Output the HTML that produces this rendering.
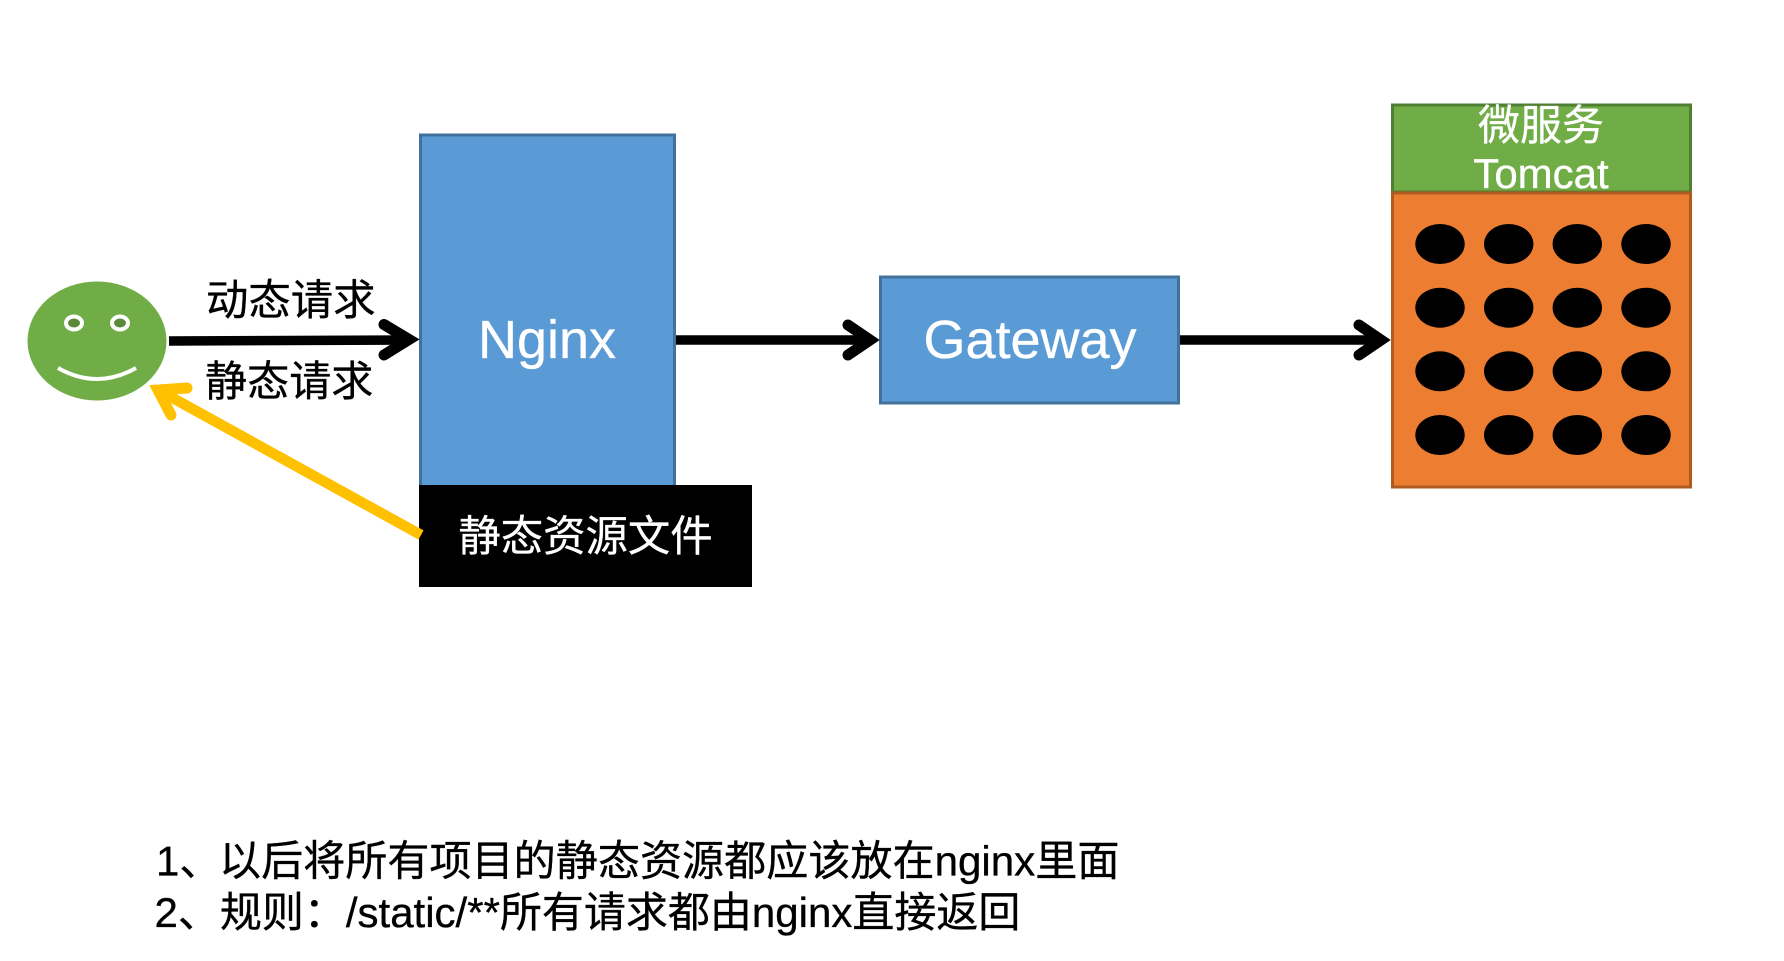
<!DOCTYPE html>
<html lang="zh">
<head>
<meta charset="utf-8">
<title>Nginx 动静分离</title>
<style>
html,body{margin:0;padding:0;background:#fff;width:1784px;height:961px;overflow:hidden}
svg{display:block}
text{font-family:"Liberation Sans","Noto Sans CJK SC",sans-serif;stroke-width:.35px}
</style>
</head>
<body>
<svg width="1784" height="961" viewBox="0 0 1784 961" xmlns="http://www.w3.org/2000/svg">
<rect width="1784" height="961" fill="#fff"/>

<!-- Smiley -->
<ellipse cx="97" cy="341" rx="69.5" ry="59.5" fill="#70AD47"/>
<ellipse cx="74" cy="323" rx="8" ry="6.5" fill="#5A8A39" stroke="#fff" stroke-width="4"/>
<ellipse cx="120" cy="323" rx="8" ry="6.5" fill="#5A8A39" stroke="#fff" stroke-width="4"/>
<path d="M58 368 Q97 390 136 368" fill="none" stroke="#fff" stroke-width="4"/>

<!-- Nginx -->
<rect x="420.5" y="135" width="254" height="352" fill="#5B9BD5" stroke="#41719C" stroke-width="3"/>
<text x="547" y="358" font-size="54" fill="#fff" stroke="#fff" text-anchor="middle">Nginx</text>

<!-- Static files -->
<rect x="419" y="485" width="333" height="102" fill="#000"/>
<text x="585.5" y="551" font-size="42.4" fill="#fff" stroke="#fff" text-anchor="middle">静态资源文件</text>

<!-- Gateway -->
<rect x="880.5" y="277" width="298" height="126" fill="#5B9BD5" stroke="#41719C" stroke-width="3"/>
<text x="1030" y="358" font-size="54" fill="#fff" stroke="#fff" text-anchor="middle">Gateway</text>

<!-- Tomcat -->
<rect x="1392.5" y="105" width="298" height="87" fill="#70AD47" stroke="#507E32" stroke-width="3"/>
<rect x="1392.5" y="193" width="298" height="294" fill="#ED7D31" stroke="#AE5A21" stroke-width="3"/>
<text x="1541" y="140" font-size="42" fill="#fff" stroke="#fff" text-anchor="middle">微服务</text>
<text x="1541" y="188" font-size="42" fill="#fff" stroke="#fff" text-anchor="middle">Tomcat</text>

<!-- Dots -->
<g fill="#000">
<ellipse cx="1440" cy="244" rx="24.7" ry="20"/><ellipse cx="1508.7" cy="244" rx="24.7" ry="20"/><ellipse cx="1577.3" cy="244" rx="24.7" ry="20"/><ellipse cx="1646" cy="244" rx="24.7" ry="20"/>
<ellipse cx="1440" cy="307.7" rx="24.7" ry="20"/><ellipse cx="1508.7" cy="307.7" rx="24.7" ry="20"/><ellipse cx="1577.3" cy="307.7" rx="24.7" ry="20"/><ellipse cx="1646" cy="307.7" rx="24.7" ry="20"/>
<ellipse cx="1440" cy="371.3" rx="24.7" ry="20"/><ellipse cx="1508.7" cy="371.3" rx="24.7" ry="20"/><ellipse cx="1577.3" cy="371.3" rx="24.7" ry="20"/><ellipse cx="1646" cy="371.3" rx="24.7" ry="20"/>
<ellipse cx="1440" cy="435" rx="24.7" ry="20"/><ellipse cx="1508.7" cy="435" rx="24.7" ry="20"/><ellipse cx="1577.3" cy="435" rx="24.7" ry="20"/><ellipse cx="1646" cy="435" rx="24.7" ry="20"/>
</g>

<!-- Arrows -->
<g fill="none" stroke="#000" stroke-width="9.5" stroke-miterlimit="10">
<path d="M169 341 L405 340"/>
<path d="M676 340 L868 340"/>
<path d="M1180 340 L1379 340"/>
</g>
<g fill="none" stroke="#000" stroke-width="11" stroke-linecap="round" stroke-linejoin="miter" stroke-miterlimit="10">
<path d="M384 324.5 L409 339.5 L384 355"/>
<path d="M848 325 L870 340 L848 355"/>
<path d="M1359 325 L1381 340 L1359 355"/>
</g>
<g fill="none" stroke="#FFC000" stroke-linecap="round" stroke-miterlimit="10">
<path d="M421 535 L160 391" stroke-width="10.5" stroke-linecap="butt"/>
<path d="M187 388 L158 390 L171 415" stroke-width="11"/>
</g>

<!-- Labels -->
<text x="206" y="315" font-size="42.4" fill="#000" stroke="#000">动态请求</text>
<text x="205" y="396" font-size="42.1" fill="#000" stroke="#000">静态请求</text>

<!-- Notes -->
<text y="875.5" font-size="42" fill="#000" stroke="#000"><tspan x="156">1、</tspan><tspan x="219" font-size="42.1">以后将所有项目的静态资源都应该放在nginx里面</tspan></text>
<text x="154.5" y="927" font-size="42" fill="#000" stroke="#000">2、规则：/static/**所有请求都由nginx直接返回</text>
</svg>
</body>
</html>
